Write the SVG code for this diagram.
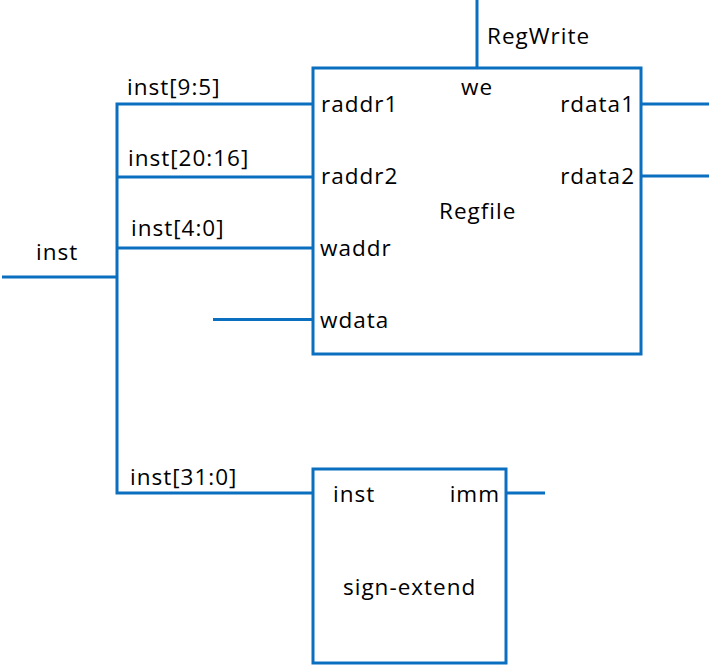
<svg xmlns="http://www.w3.org/2000/svg" width="709" height="667" viewBox="0 0 709 667">
<style>
  .w { stroke: #0B6FC0; stroke-width: 3; fill: none; }
  .box { stroke: #0B6FC0; stroke-width: 3; fill: #FFFFFF; }
  text { font-family: "Open Sans", "Noto Sans", sans-serif; font-size: 22.5px; fill: #000000; letter-spacing: 1px; }
  .end { text-anchor: end; }
</style>
<rect x="0" y="0" width="709" height="667" fill="#FFFFFF"/>
<g id="connectors">
  <line class="w" x1="477" y1="0" x2="477" y2="68"/>
  <line class="w" x1="641" y1="104" x2="709" y2="104"/>
  <line class="w" x1="641" y1="176" x2="709" y2="176"/>
  <polyline class="w" points="313,104 117,104 117,493 313,493"/>
  <line class="w" x1="117" y1="177" x2="313" y2="177"/>
  <line class="w" x1="117" y1="248" x2="313" y2="248"/>
  <line class="w" x1="2" y1="277" x2="117" y2="277"/>
  <line class="w" x1="213" y1="319.5" x2="313" y2="319.5"/>
  <line class="w" x1="506" y1="493" x2="545" y2="493"/>
  <text x="127" y="95">inst[9:5]</text>
  <text x="128" y="166">inst[20:16]</text>
  <text x="131" y="236">inst[4:0]</text>
  <text x="36" y="260">inst</text>
  <text x="130" y="485">inst[31:0]</text>
  <text x="487" y="44">RegWrite</text>
</g>
<g id="regfile">
  <rect class="box" x="313" y="68" width="328" height="286"/>
  <text x="461" y="95">we</text>
  <text x="321" y="112">raddr1</text>
  <text x="321" y="184">raddr2</text>
  <text x="320" y="256">waddr</text>
  <text x="320" y="328">wdata</text>
  <text class="end" x="635" y="112">rdata1</text>
  <text class="end" x="635" y="184">rdata2</text>
  <text x="439" y="219">Regfile</text>
</g>
<g id="sign-extend">
  <rect class="box" x="313" y="469" width="193" height="194"/>
  <text x="333" y="502">inst</text>
  <text class="end" x="500" y="502">imm</text>
  <text x="343" y="595">sign-extend</text>
</g>
</svg>
